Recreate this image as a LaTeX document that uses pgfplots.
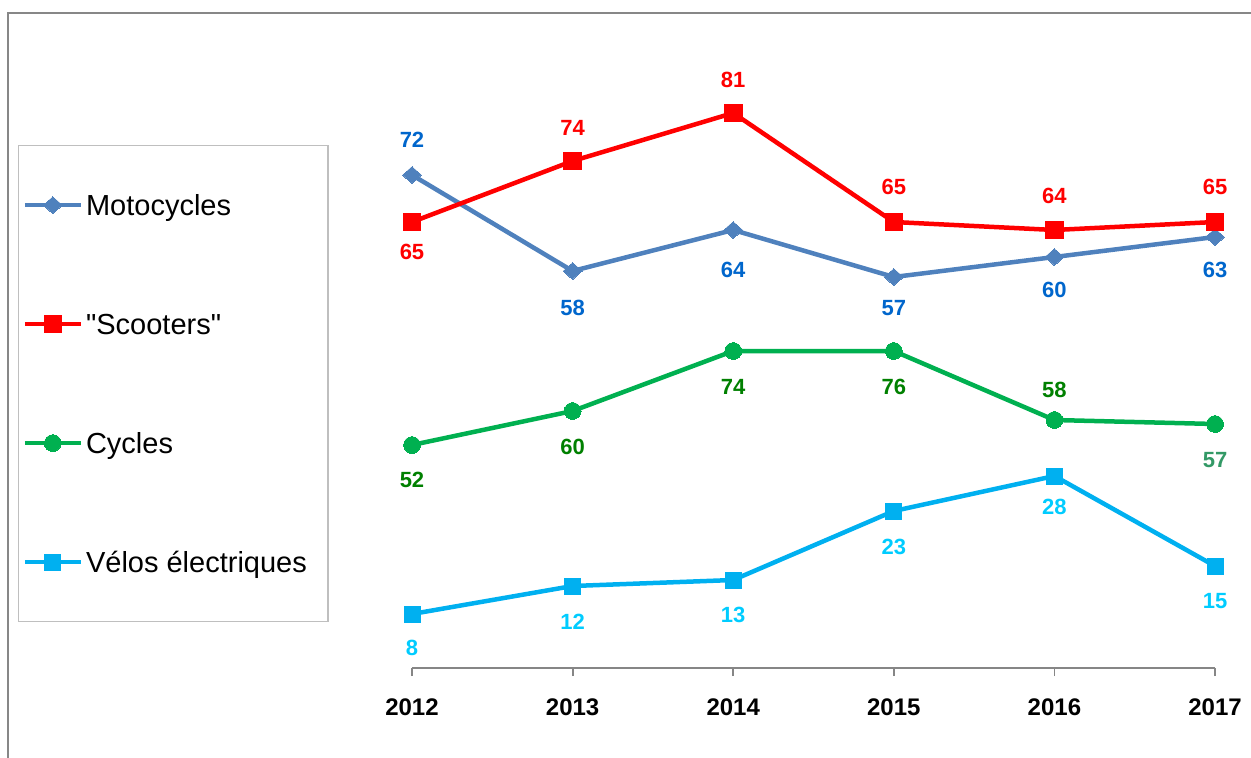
\documentclass[border=0pt]{standalone}
\usepackage{fontspec}
\setmainfont{Liberation Sans}[Ligatures=TeXOff]
\usepackage{pgfplots}
\usepackage{pgfplotstable}
\pgfplotsset{compat=1.18}
\definecolor{motoline}{HTML}{4F81BD}
\definecolor{motolab}{HTML}{0066CC}
\definecolor{scootred}{HTML}{FF0000}
\definecolor{cycline}{HTML}{00B050}
\definecolor{cyclab}{HTML}{008000}
\definecolor{cyclabb}{HTML}{339966}
\definecolor{veloline}{HTML}{00B0F0}
\definecolor{velolab}{HTML}{00CCFF}
\definecolor{framegray}{HTML}{878787}
\definecolor{axisgray}{HTML}{868686}
\definecolor{legendgray}{HTML}{BFBFBF}

% y = drawn height of each point above the axis line (chart units), lab = printed value
\pgfplotstableread{
x y lab off alt
2012 493 72 17.5 0
2013 397 58 -18.5 0
2014 438 64 -20 0
2015 391 57 -15.5 0
2016 411 60 -16.5 0
2017 431 63 -16.5 0
}\moto
\pgfplotstableread{
x y lab off alt
2012 446 65 -15 0
2013 507 74 16.5 0
2014 555 81 16.5 0
2015 446 65 17.5 0
2016 438 64 17 0
2017 446 65 17.5 0
}\scoot
\pgfplotstableread{
x y lab off alt
2012 223 52 -17.5 0
2013 257 60 -18 0
2014 317 74 -18 0
2015 317 76 -18 0
2016 248 58 15 0
2017 244 57 -18 1
}\cyc
\pgfplotstableread{
x y lab off alt
2012 54 8 -17 0
2013 82 12 -18 0
2014 88 13 -17.5 0
2015 157 23 -18 0
2016 192 28 -15.5 0
2017 102 15 -17.5 0
}\velo

\begin{document}
\begin{tikzpicture}
\useasboundingbox (0pt,0pt) rectangle (625.5pt,378.5pt);
\draw[color=framegray, line width=0.9pt] (4pt,-2pt) -- (4pt,372pt) -- (628pt,372pt);
\begin{axis}[
  at={(206pt,44.5pt)}, anchor=south west,
  scale only axis, width=401.5pt, height=324pt,
  xmin=2012, xmax=2017, ymin=0, ymax=648,
  axis x line=bottom, axis y line=none,
  axis line style={-, draw=axisgray, line width=0.9pt},
  xtick={2012,2013,2014,2015,2016,2017},
  xticklabels={2012,2013,2014,2015,2016,2017},
  xtick align=outside, major tick length=4pt,
  tick style={draw=axisgray, line width=0.9pt},
  xticklabel style={font=\bfseries\fontsize{12}{12}\selectfont, yshift=-8pt},
  clip=false,
  legend cell align=left,
  legend image code/.code={\draw[mark repeat=2,mark phase=2,#1] plot coordinates {(0pt,0pt) (14pt,0pt) (28pt,0pt)};},
  legend style={at={(-0.4907,0.8071)}, anchor=north west, draw=legendgray, line width=0.6pt,
    inner xsep=2pt, inner ysep=23pt, row sep=46pt, column sep=1.5pt,
    font=\fontsize{14.5}{14.5}\selectfont,
    nodes={inner sep=0pt, text height=12pt, text depth=1.5pt}},
  point meta=explicit symbolic,
  visualization depends on={\thisrow{off} \as \myoff},
  visualization depends on={\thisrow{alt} \as \myalt},
  every node near coord/.append style={anchor=center, yshift=\myoff pt, font=\bfseries\fontsize{11}{11}\selectfont},
  every axis plot/.append style={line width=2.25pt, line join=round},
]
\addplot[color=motoline, mark=diamond*, mark size=4.2pt, mark options={solid, line width=0pt, xscale=1.5},
  nodes near coords, every node near coord/.append style={text=motolab}] table[x=x,y=y,meta=lab] {\moto};
\addlegendentry{Motocycles}
\addplot[color=scootred, mark=square*, mark size=4.4pt, mark options={solid, line width=0pt},
  nodes near coords, every node near coord/.append style={text=scootred}] table[x=x,y=y,meta=lab] {\scoot};
\addlegendentry{"Scooters"}
\addplot[color=cycline, mark=*, mark size=4.2pt, mark options={solid, line width=0pt},
  nodes near coords={\ifdim\myalt pt>0.5pt\color{cyclabb}\fi\pgfplotspointmeta},
  every node near coord/.append style={text=cyclab}] table[x=x,y=y,meta=lab] {\cyc};
\addlegendentry{Cycles}
\addplot[color=veloline, mark=square*, mark size=4pt, mark options={solid, line width=0pt},
  nodes near coords, every node near coord/.append style={text=velolab}] table[x=x,y=y,meta=lab] {\velo};
\addlegendentry{Vélos électriques\rule{8.5pt}{0pt}}
\end{axis}
\end{tikzpicture}
\end{document}
